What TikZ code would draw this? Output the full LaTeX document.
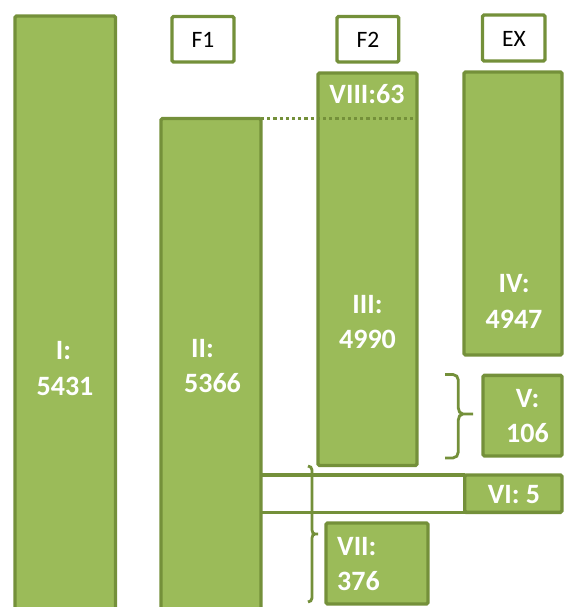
\documentclass[tikz,border=0pt]{standalone}
\usepackage{fontspec}
\setmainfont{Carlito}
\definecolor{gfill}{HTML}{9BBB59}
\definecolor{gline}{HTML}{74903A}
\begin{document}
\begin{tikzpicture}[x=1pt,y=-1pt,
  box/.style={draw=gline,line width=3.4pt,rounded corners=1.5pt,outer sep=0pt,inner sep=0pt,anchor=north west},
  bar/.style={box,fill=gfill},
  hdr/.style={box,fill=white},
  lbl/.style={text=white,font=\fontsize{28}{34}\selectfont\bfseries,inner sep=0pt,anchor=base},
  hlbl/.style={font=\fontsize{23.5}{28}\selectfont,inner sep=0pt,anchor=base},
  brc/.style={draw=gline,line width=2.8pt},
  link/.style={draw=gline,line width=3.4pt}]
\useasboundingbox (0,0) rectangle (564,607);
% header boxes
\node[hdr,minimum width=62pt,minimum height=45.5pt] (F1) at (172,16.5) {};
\node[hdr,minimum width=61.7pt,minimum height=45.5pt] (F2) at (337,16.5) {};
\node[hdr,minimum width=62.5pt,minimum height=46pt] (EX) at (482.5,15) {};
% bars
\node[bar,minimum width=100.5pt,minimum height=624pt] (I) at (15,16) {};
\node[bar,minimum width=100pt,minimum height=521.5pt] (II) at (161,118.5) {};
\node[bar,minimum width=99pt,minimum height=392.5pt] (III) at (318,73) {};
\node[bar,minimum width=98pt,minimum height=283pt] (IV) at (464,72) {};
\node[bar,minimum width=79pt,minimum height=80.7pt] (V) at (483,375.3) {};
\node[bar,minimum width=102pt,minimum height=81pt] (VII) at (326,523) {};
% band to VI
\coordinate (VInw) at (464.7,475);
\coordinate (VIsw) at (464.7,512.3);
\draw[link] (II.east |- VInw) -- (VInw);
\draw[link] (II.east |- VIsw) -- (VIsw);
\node[bar,minimum width=97.3pt,minimum height=37.3pt] (VI) at (VInw) {};
% dotted line
\draw[draw=gline,line width=3.2pt,dash pattern=on 3.2pt off 3pt] (II.north east) -- (II.north east -| III.east);
% braces
\draw[brc] (445,374.5) -- (453,374.5) to[out=0,in=90] (458.3,380) -- (458.3,408)
  to[out=-90,in=180] (463,414) -- (473,414) -- (463,414)
  to[out=180,in=90] (458.3,420) -- (458.3,452) to[out=-90,in=0] (453,458) -- (445,458);
\draw[brc] (308,466) to[out=0,in=90] (312,470) -- (312,530)
  to[out=-90,in=180] (315,534) -- (318,534) -- (315,534)
  to[out=180,in=90] (312,538) -- (312,598) to[out=-90,in=0] (308,602);
% labels
\node[hlbl] (tF1) at (203,48) {F1};
\node[hlbl] (tF2) at (368,48) {F2};
\node[hlbl] (tEX) at (514,47) {EX};
\node[lbl] (tI1) at (63.5,359) {I:};
\node[lbl] (tI2) at (65,395) {5431};
\node[lbl] (tII1) at (202.5,357) {II:};
\node[lbl] (tII2) at (212.5,392) {5366};
\node[lbl] (tVIII) at (367,103) {VIII:63};
\node[lbl] (tIII1) at (367.5,313) {III:};
\node[lbl] (tIII2) at (367.5,348) {4990};
\node[lbl] (tIV1) at (514,292) {IV:};
\node[lbl] (tIV2) at (514,328) {4947};
\node[lbl] (tV1) at (527.5,407) {V:};
\node[lbl] (tV2) at (527.5,442) {106};
\node[lbl] (tVI) at (514,503) {VI: 5};
\node[lbl,anchor=base west] (tVII1) at (337,555) {VII:};
\node[lbl,anchor=base west] (tVII2) at (337,590) {376};
\end{tikzpicture}
\end{document}
